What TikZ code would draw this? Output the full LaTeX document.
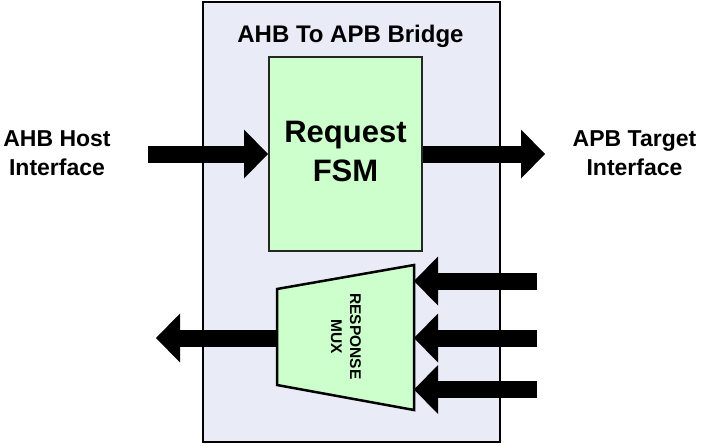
\documentclass[tikz,border=0pt]{standalone}
\usepackage{fontspec}
\setmainfont{Liberation Sans}
\usetikzlibrary{arrows.meta}
\definecolor{bridgefill}{HTML}{E9ECF7}
\definecolor{blockfill}{HTML}{CCFFCC}
\begin{document}
\begin{tikzpicture}[x=1pt,y=-1pt,
  bigarrow/.style={line width=17pt, -{Triangle[length=24pt,width=49pt,line width=0pt]}},
  lbl/.style={font=\bfseries\fontsize{23}{28.8}\selectfont, align=center, inner sep=0pt},
  titlestyle/.style={font=\bfseries\fontsize{24}{28.8}\selectfont, inner sep=0pt},
  outerbox/.style={draw=black, line width=2.5pt, fill=bridgefill, inner sep=0pt},
  fsmbox/.style={draw=black!85, line width=2pt, fill=blockfill, inner sep=0pt},
  fsmtext/.style={font=\bfseries\fontsize{31}{38.7}\selectfont, align=center, inner sep=0pt},
  muxshape/.style={draw=black, line width=2.5pt, fill=blockfill, line join=miter},
  muxtext/.style={font=\bfseries\fontsize{15.5}{19}\selectfont, align=center, inner sep=0pt, rotate=-90}]
\useasboundingbox (0,0) rectangle (707,445);
% outer bridge box
\node[outerbox, minimum width=297, minimum height=440] (bridge) at (351.5,222) {};
\node[titlestyle, anchor=base] (title) at (350.5,42) {AHB To APB Bridge};
% side labels
\node[lbl] (ahb) at (57,152.8) {AHB Host\\Interface};
\node[lbl] (apb) at (634.5,153.5) {APB Target\\Interface};
% coordinates
\coordinate (ahbsrc) at (148,154);
\coordinate (apbdst) at (545,154);
\coordinate (min1) at (414,281);
\coordinate (min2) at (414,338);
\coordinate (min3) at (414,389.5);
\coordinate (src1) at (537,281);
\coordinate (src2) at (537,338);
\coordinate (src3) at (537,389.5);
\coordinate (mout) at (277,338);
\coordinate (ahbdst) at (156,338);
% request FSM box
\node[fsmbox, minimum width=153, minimum height=194] (fsm) at (345.5,154) {};
% arrows
\draw[bigarrow] (ahbsrc) -- (fsm.west);
\draw[bigarrow] (fsm.east) -- (apbdst);
\draw[bigarrow] (src1) -- (min1);
\draw[bigarrow] (src2) -- (min2);
\draw[bigarrow] (src3) -- (min3);
\draw[bigarrow] (mout) -- (ahbdst);
% response mux
\draw[muxshape] (277,289) -- (414,265) -- (414,410) -- (277,385) -- cycle;
\node[fsmtext] (fsmlabel) at (345.5,151.3) {Request\\FSM};
\node[muxtext] (muxlabel) at (346,336.5) {RESPONSE\\MUX};
\end{tikzpicture}
\end{document}
